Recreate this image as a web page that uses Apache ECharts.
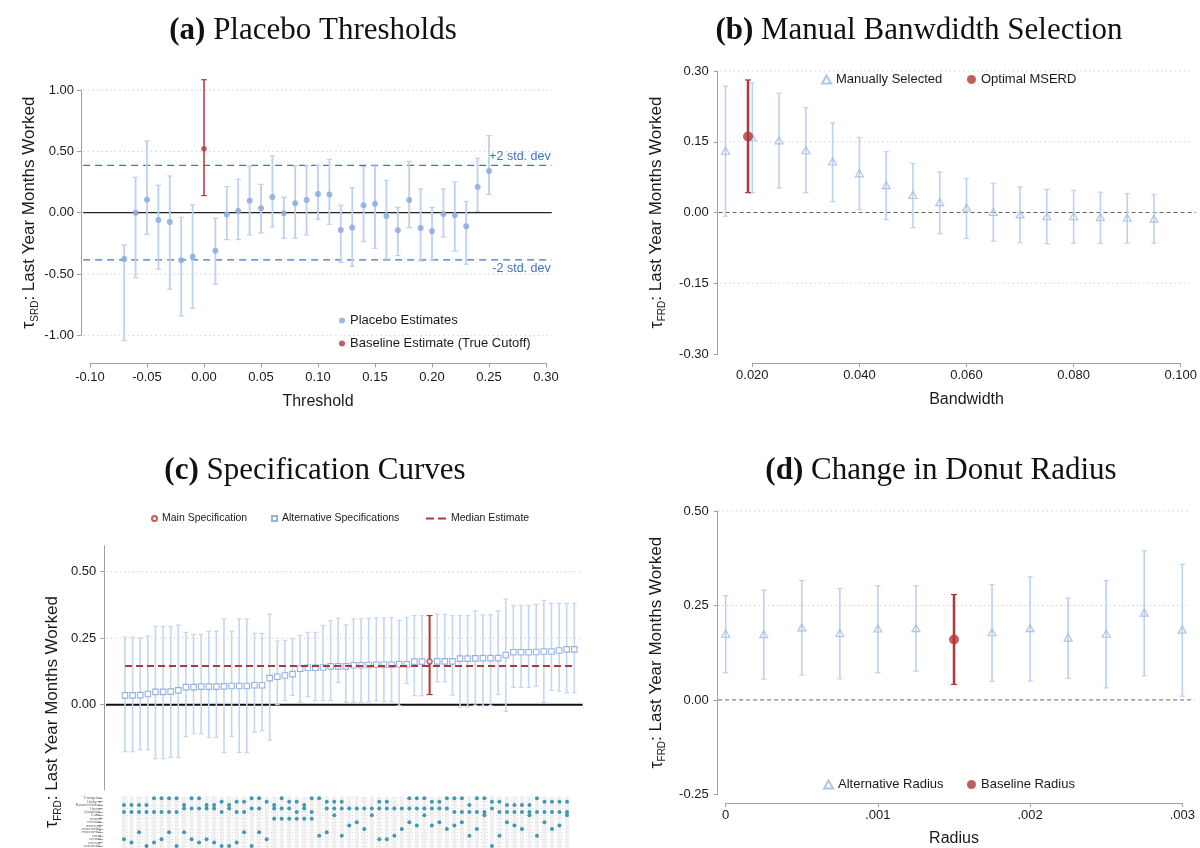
<!DOCTYPE html>
<html><head><meta charset="utf-8">
<script src="https://cdn.jsdelivr.net/npm/echarts@6/dist/echarts.min.js"></script>
<style>html,body{margin:0;padding:0;background:#fff}#c{width:1200px;height:848px}</style>
</head><body><div id="c"></div>
<script>
// ---------------- DATA ----------------
// (a) Placebo thresholds
const aThreshold = [-0.07,-0.06,-0.05,-0.04,-0.03,-0.02,-0.01,0.01,0.02,0.03,0.04,0.05,0.06,0.07,0.08,0.09,0.10,0.11,0.12,0.13,0.14,0.15,0.16,0.17,0.18,0.19,0.20,0.21,0.22,0.23,0.24,0.25];
const aEst = [-0.378,0.000,0.106,-0.060,-0.076,-0.389,-0.359,-0.310,-0.016,0.014,0.098,0.035,0.128,-0.005,0.076,0.103,0.152,0.149,-0.141,-0.122,0.060,0.073,-0.027,-0.144,0.103,-0.125,-0.152,-0.011,-0.022,-0.111,0.209,0.340];
const aLo = [-1.043,-0.530,-0.177,-0.462,-0.625,-0.842,-0.780,-0.582,-0.220,-0.220,-0.182,-0.166,-0.117,-0.209,-0.209,-0.182,-0.054,-0.095,-0.405,-0.438,-0.236,-0.290,-0.378,-0.350,-0.122,-0.394,-0.386,-0.198,-0.315,-0.421,0.011,0.149];
const aHi = [-0.264,0.288,0.584,0.223,0.299,-0.038,0.063,-0.046,0.212,0.272,0.380,0.231,0.462,0.125,0.380,0.380,0.386,0.435,0.060,0.204,0.375,0.380,0.264,0.043,0.418,0.193,0.043,0.193,0.250,0.092,0.443,0.628];
const aBaseline = {x: 0.00, est: 0.522, lo: 0.139, hi: 1.084};
const aStdDev = 0.385;

// (b) Manual bandwidth selection
const bBandwidth = [0.015,0.020,0.025,0.030,0.035,0.040,0.045,0.050,0.055,0.060,0.065,0.070,0.075,0.080,0.085,0.090,0.095];
const bEst = [0.131,0.159,0.153,0.132,0.108,0.083,0.058,0.037,0.022,0.010,0.001,-0.004,-0.008,-0.008,-0.010,-0.011,-0.013];
const bLo = [-0.008,0.042,0.052,0.042,0.023,0.006,-0.015,-0.032,-0.045,-0.055,-0.061,-0.064,-0.066,-0.065,-0.065,-0.065,-0.065];
const bHi = [0.268,0.275,0.253,0.222,0.190,0.159,0.129,0.104,0.086,0.072,0.062,0.054,0.049,0.047,0.043,0.040,0.038];
const bOptimal = {x: 0.0192, est: 0.161, lo: 0.042, hi: 0.281};

// (c) Specification curve (sorted specifications 1..60, main spec = 41)
const cEst = [0.035,0.035,0.036,0.040,0.048,0.048,0.049,0.054,0.066,0.066,0.068,0.068,0.068,0.069,0.070,0.070,0.070,0.073,0.073,0.100,0.105,0.110,0.115,0.135,0.139,0.139,0.140,0.144,0.144,0.144,0.148,0.148,0.149,0.150,0.150,0.150,0.152,0.152,0.162,0.162,0.162,0.163,0.163,0.163,0.173,0.173,0.174,0.175,0.175,0.175,0.187,0.197,0.197,0.197,0.198,0.200,0.200,0.204,0.208,0.208];
const cHi = [0.254,0.254,0.252,0.258,0.294,0.294,0.294,0.299,0.272,0.264,0.264,0.276,0.276,0.322,0.276,0.323,0.323,0.268,0.268,0.340,0.239,0.242,0.248,0.261,0.272,0.272,0.297,0.316,0.325,0.300,0.323,0.323,0.325,0.326,0.327,0.327,0.317,0.328,0.335,0.335,0.335,0.340,0.340,0.335,0.335,0.335,0.353,0.337,0.338,0.353,0.397,0.373,0.373,0.373,0.377,0.392,0.381,0.381,0.381,0.381];
const cLo = [-0.177,-0.177,-0.170,-0.170,-0.203,-0.203,-0.198,-0.198,-0.120,-0.109,-0.109,-0.123,-0.123,-0.180,-0.119,-0.180,-0.180,-0.103,-0.098,-0.133,0.000,0.016,0.035,0.008,0.030,0.015,0.015,0.015,0.084,0.009,0.009,0.009,0.011,0.015,0.011,0.011,-0.004,0.080,0.034,0.034,0.038,0.086,0.086,0.036,-0.009,-0.009,-0.003,-0.005,-0.004,0.038,-0.025,0.065,0.065,0.065,0.069,0.009,0.054,0.051,0.045,0.045];
const cMainSpec = 41;
const cMedian = 0.145;
const cYTicks = [0, 0.25, 0.50];
// specification indicator matrix (rows, and selected columns per row)
const matrixRows = ['Triangular','Uniform','Epanechnikov','Linear','Quadratic','Cubic','mserd','msetwo','msesum','msecomb1','msecomb2','cerrd','certwo','cersum','cercomb1'];
const matrixSelected = [
  [5,6,7,8,10,11,18,19,22,26,27,39,40,41,44,45,46,48,49,56],
  [14,16,17,20,23,24,28,29,30,35,36,42,43,50,51,57,58,59,60],
  [1,2,3,4,9,12,13,15,21,25,47,52,53,54,55],
  [9,10,11,12,13,15,18,19,21,22,23,25,28,29,30,31,32,33,34,35,36,37,38,39,40,41,42,43,44,50],
  [1,2,3,4,5,6,7,8,14,16,17,24,26,45,46,47,48,49,51,52,53,54,55,56,57,58,59,60],
  [29,34,41,49,55,60],
  [21,22,23,24,25,26],
  [32,39,43,46,52,57],
  [31,40,42,45,53,59],
  [33,38,44,48,54,58],
  [3,7,9,17,19,28],
  [27,30,37,47,51,56],
  [1,6,10,12,20,35,36],
  [2,5,11,13,16],
  [4,8,14,15,18,50]
];

// (d) Donut radius
const dRadius = [0,0.00025,0.0005,0.00075,0.001,0.00125,0.00175,0.002,0.00225,0.0025,0.00275,0.003];
const dEst = [0.175,0.174,0.192,0.177,0.189,0.190,0.179,0.190,0.165,0.175,0.231,0.186];
const dLo = [0.072,0.055,0.066,0.056,0.072,0.076,0.049,0.050,0.057,0.032,0.064,0.010];
const dHi = [0.276,0.291,0.316,0.295,0.302,0.302,0.305,0.326,0.270,0.316,0.395,0.359];
const dBaseline = {x: 0.0015, est: 0.160, lo: 0.041, hi: 0.279};

// ---------------- STYLE ----------------
const SANS = "'Liberation Sans', Arial, sans-serif";
const SERIF = "'Liberation Serif', 'Times New Roman', serif";
const TXT = '#1a1a1a';
const BLUE_BAR = '#bdd0ee';
const BLUE_PT = '#86a8dc';
const BLUE_TRI = '#9cb8e4';
const BLUE_SQ = '#7d9fd6';
const RED = '#b0363b';
const TEAL = '#1b7fa6';
const GRIDC = '#cfcfcf';
const AXISC = '#a0a0a0';
const SDBLUE = '#3f72c2';

const zip3 = (x, lo, hi) => x.map((v, i) => [v, lo[i], hi[i]]);
const zip2 = (x, y) => x.map((v, i) => [v, y[i]]);

function errRender(capHalf, width, color) {
  return function (params, api) {
    const x = api.value(0), lo = api.value(1), hi = api.value(2);
    const p1 = api.coord([x, hi]), p2 = api.coord([x, lo]);
    return {type: 'group', children: [
      {type: 'line', shape: {x1: p1[0], y1: p1[1], x2: p2[0], y2: p2[1]}, style: {stroke: color, lineWidth: width}},
      {type: 'line', shape: {x1: p1[0] - capHalf, y1: p1[1], x2: p1[0] + capHalf, y2: p1[1]}, style: {stroke: color, lineWidth: 1.2}},
      {type: 'line', shape: {x1: p2[0] - capHalf, y1: p2[1], x2: p2[0] + capHalf, y2: p2[1]}, style: {stroke: color, lineWidth: 1.2}}
    ]};
  };
}
function errSeries(name, gi, data, capHalf, width, color, z) {
  return {name, type: 'custom', xAxisIndex: gi, yAxisIndex: gi, data, clip: false, z,
    encode: {x: 0, y: [1, 2]}, renderItem: errRender(capHalf, width, color), silent: true};
}
// horizontal reference line (custom series so it may extend past the tick range)
function guide(gi, y, x0, x1, ls, label) {
  return {type: 'custom', xAxisIndex: gi, yAxisIndex: gi, data: [[x0, y, x1]], clip: false, z: 1, silent: true,
    encode: {x: [0, 2], y: 1},
    renderItem: function (params, api) {
      const p0 = api.coord([api.value(0), api.value(1)]);
      const p1 = api.coord([api.value(2), api.value(1)]);
      const kids = [{type: 'line', shape: {x1: p0[0], y1: p0[1], x2: p1[0], y2: p1[1]},
        style: {stroke: ls.color, lineWidth: ls.width, lineDash: ls.dash || null}}];
      if (label) {
        kids.push({type: 'text', style: {text: label.text, x: p1[0] - 1, y: p1[1] + label.dy,
          align: 'right', verticalAlign: label.va, fill: SDBLUE, fontSize: 12.5, fontFamily: SANS}});
      }
      return {type: 'group', children: kids};
    }};
}
const dotted = {color: GRIDC, width: 1, dash: [1.5, 3]};

const yName = (sub) => '{t|τ}{s|' + sub + '}{n|: Last Year Months Worked}';
const yRich = {
  t: {fontSize: 18, fontFamily: SANS, color: TXT, lineHeight: 22},
  s: {fontSize: 10, fontFamily: SANS, color: TXT, lineHeight: 9, verticalAlign: 'bottom'},
  n: {fontSize: 17, fontFamily: SANS, color: TXT, lineHeight: 22}
};

const fmt2 = v => Math.abs(v) < 1e-9 ? '0.00' : v.toFixed(2);
const tickLabel = {color: TXT, fontSize: 13, fontFamily: SANS};
const axLine = {show: true, onZero: false, lineStyle: {color: AXISC, width: 1}};
const axTick = {show: true, length: 4, lineStyle: {color: AXISC}};
const axName = {fontSize: 16, fontFamily: SANS, color: TXT};

function legendAt(name, left, top, iw, ih, fs, icon) {
  const l = {data: [name], left, top, itemWidth: iw, itemHeight: ih, itemGap: 0, selectedMode: false,
    padding: 0, textStyle: {fontSize: fs, fontFamily: SANS, color: TXT}};
  if (icon) l.icon = icon;
  return l;
}

// matrix data
const matrixAll = [];
for (let r = 0; r < matrixRows.length; r++) for (let c = 1; c <= cEst.length; c++) matrixAll.push([c, r]);
const matrixOn = [];
matrixSelected.forEach((cols, r) => cols.forEach(c => matrixOn.push([c, r])));

const cIdx = cEst.map((_, i) => i + 1);
const cAlt = cIdx.filter(i => i !== cMainSpec);

// ---------------- OPTION ----------------
const titleStyle = {fontFamily: SERIF, fontSize: 31, fontWeight: 'normal', color: '#111',
  rich: {b: {fontFamily: SERIF, fontSize: 31, fontWeight: 'bold', color: '#111'}}};

const option = {
  animation: false,
  backgroundColor: '#fff',
  title: [
    {text: '{b|(a)} Placebo Thresholds', left: 308, textAlign: 'center', top: 10, textStyle: titleStyle},
    {text: '{b|(b)} Manual Banwdidth Selection', left: 914, textAlign: 'center', top: 10, textStyle: titleStyle},
    {text: '{b|(c)} Specification Curves', left: 310, textAlign: 'center', top: 450, textStyle: titleStyle},
    {text: '{b|(d)} Change in Donut Radius', left: 936, textAlign: 'center', top: 450, textStyle: titleStyle}
  ],
  grid: [
    {left: 90, width: 456, top: 90, height: 245.3},
    {left: 752.3, width: 430, top: 71, height: 283},
    {left: 125, width: 449.3, top: 545.7, height: 244.3},
    {left: 124, width: 443, top: 798.3, height: 3.67 * (matrixRows.length - 1)},
    {left: 725.7, width: 456.6, top: 511, height: 283.7}
  ],
  xAxis: [
    {gridIndex: 0, type: 'value', min: -0.1, max: 0.3, interval: 0.05, offset: 28,
      axisLine: axLine, axisTick: axTick, splitLine: {show: false},
      axisLabel: Object.assign({formatter: fmt2, margin: 8}, tickLabel),
      name: 'Threshold', nameLocation: 'middle', nameGap: 30, nameTextStyle: axName},
    {gridIndex: 1, type: 'value', min: 0.02, max: 0.1, interval: 0.02, offset: 9,
      axisLine: axLine, axisTick: axTick, splitLine: {show: false},
      axisLabel: Object.assign({formatter: v => v.toFixed(3), margin: 6}, tickLabel),
      name: 'Bandwidth', nameLocation: 'middle', nameGap: 29, nameTextStyle: axName},
    {gridIndex: 2, type: 'value', min: 1, max: 60, show: false},
    {gridIndex: 3, type: 'value', min: 1, max: 60, show: false},
    {gridIndex: 4, type: 'value', min: 0, max: 0.003, interval: 0.001, offset: 8.6,
      axisLine: axLine, axisTick: axTick, splitLine: {show: false},
      axisLabel: Object.assign({formatter: v => v === 0 ? '0' : v.toFixed(3).replace(/^0/, ''), margin: 6}, tickLabel),
      name: 'Radius', nameLocation: 'middle', nameGap: 28, nameTextStyle: axName}
  ],
  yAxis: [
    {gridIndex: 0, type: 'value', min: -1, max: 1, interval: 0.5, offset: 9,
      axisLine: axLine, axisTick: axTick, splitLine: {show: false},
      axisLabel: Object.assign({formatter: fmt2, margin: 7}, tickLabel),
      name: yName('SRD'), nameLocation: 'middle', nameGap: 40, nameTextStyle: {rich: yRich}},
    {gridIndex: 1, type: 'value', min: -0.3, max: 0.3, interval: 0.15, offset: 34.6,
      axisLine: axLine, axisTick: axTick, splitLine: {show: false},
      axisLabel: Object.assign({formatter: fmt2, margin: 9}, tickLabel),
      name: yName('FRD'), nameLocation: 'middle', nameGap: 50, nameTextStyle: {rich: yRich}},
    {gridIndex: 2, type: 'value', min: -0.3207, max: 0.5977, offset: 20.7,
      axisLine: axLine, axisTick: Object.assign({customValues: cYTicks}, axTick), splitLine: {show: false},
      axisLabel: Object.assign({customValues: cYTicks, formatter: fmt2, margin: 8}, tickLabel)},
    {gridIndex: 3, type: 'category', data: matrixRows, inverse: true, boundaryGap: false, offset: 21,
      axisLine: {show: false}, axisTick: {show: true, length: 5, lineStyle: {color: '#aaa'}},
      splitLine: {show: true, lineStyle: {color: '#dcdcdc', type: [1, 2]}},
      axisLabel: {interval: 0, fontSize: 4, color: '#666', fontFamily: SANS, margin: 2}},
    {gridIndex: 4, type: 'value', min: -0.25, max: 0.5, interval: 0.25, offset: 8,
      axisLine: axLine, axisTick: axTick, splitLine: {show: false},
      axisLabel: Object.assign({formatter: fmt2, margin: 9}, tickLabel),
      name: yName('FRD'), nameLocation: 'middle', nameGap: 50, nameTextStyle: {rich: yRich}}
  ],
  legend: [
    legendAt('Placebo Estimates', 339, 314, 6, 6, 13),
    legendAt('Baseline Estimate (True Cutoff)', 339, 337, 6, 6, 13),
    legendAt('Manually Selected', 821, 73, 9, 8, 13),
    legendAt('Optimal MSERD', 967, 73, 9, 9, 13),
    legendAt('Main Specification', 151, 513, 5, 5, 10.5),
    legendAt('Alternative Specifications', 271, 513, 5, 5, 10.5),
    legendAt('Median Estimate', 426, 513, 20, 2, 10.5, 'path://M0,0h8v2h-8z M12,0h8v2h-8z'),
    legendAt('Alternative Radius', 823, 778, 9, 8, 13),
    legendAt('Baseline Radius', 967, 778, 9, 9, 13)
  ],
  graphic: [{
    type: 'text', x: 52, y: 712, rotation: Math.PI / 2, silent: true,
    style: {text: yName('FRD'), rich: yRich, align: 'center', verticalAlign: 'middle', fill: TXT}
  }],
  series: [
    // ----- (a)
    guide(0, 1.0, -0.106, 0.305, dotted), guide(0, 0.5, -0.106, 0.305, dotted),
    guide(0, -0.5, -0.106, 0.305, dotted), guide(0, -1.0, -0.106, 0.305, dotted),
    guide(0, 0, -0.106, 0.305, {color: '#222', width: 1.3}),
    guide(0, aStdDev, -0.106, 0.305, {color: SDBLUE, width: 1.2, dash: [7, 5]}, {text: '+2 std. dev', dy: -2, va: 'bottom'}),
    guide(0, -aStdDev, -0.106, 0.305, {color: SDBLUE, width: 1.2, dash: [7, 5]}, {text: '-2 std. dev', dy: 2, va: 'top'}),
    errSeries('Placebo CI', 0, zip3(aThreshold, aLo, aHi), 2.7, 1.8, BLUE_BAR, 2),
    {name: 'Placebo Estimates', type: 'scatter', xAxisIndex: 0, yAxisIndex: 0, clip: false, z: 3,
      data: zip2(aThreshold, aEst), symbol: 'circle', symbolSize: 6, itemStyle: {color: BLUE_PT}},
    errSeries('Baseline CI', 0, [[aBaseline.x, aBaseline.lo, aBaseline.hi]], 2.7, 1.5, RED, 4),
    {name: 'Baseline Estimate (True Cutoff)', type: 'scatter', xAxisIndex: 0, yAxisIndex: 0, clip: false, z: 5,
      data: [[aBaseline.x, aBaseline.est]], symbol: 'circle', symbolSize: 5.5, itemStyle: {color: RED}},

    // ----- (b)
    guide(1, 0.30, 0.014, 0.1016, dotted), guide(1, 0.15, 0.014, 0.1016, dotted), guide(1, -0.15, 0.014, 0.1016, dotted),
    guide(1, 0, 0.0137, 0.1028, {color: '#666', width: 1, dash: [4, 3]}),
    errSeries('Bandwidth CI', 1, zip3(bBandwidth, bLo, bHi), 2.6, 1.6, BLUE_BAR, 2),
    {name: 'Manually Selected', type: 'scatter', xAxisIndex: 1, yAxisIndex: 1, clip: false, z: 3,
      data: zip2(bBandwidth, bEst), symbol: 'triangle', symbolSize: [8, 7],
      itemStyle: {color: 'rgba(255,255,255,0)', borderColor: BLUE_TRI, borderWidth: 1.2}},
    errSeries('Optimal CI', 1, [[bOptimal.x, bOptimal.lo, bOptimal.hi]], 3, 2.5, RED, 4),
    {name: 'Optimal MSERD', type: 'scatter', xAxisIndex: 1, yAxisIndex: 1, clip: false, z: 5,
      data: [[bOptimal.x, bOptimal.est]], symbol: 'circle', symbolSize: 10, itemStyle: {color: RED}},

    // ----- (c) top
    guide(2, 0.50, -1.5, 61.1, dotted), guide(2, 0.25, -1.5, 61.1, dotted),
    guide(2, 0, -1.5, 61.1, {color: '#111', width: 2}),
    errSeries('Spec CI', 2, cAlt.map(i => [i, cLo[i - 1], cHi[i - 1]]), 2.4, 1.6, '#c5d6ef', 2),
    {name: 'Alternative Specifications', type: 'scatter', xAxisIndex: 2, yAxisIndex: 2, clip: false, z: 3,
      data: cAlt.map(i => [i, cEst[i - 1]]), symbol: 'rect', symbolSize: 5.5,
      itemStyle: {color: '#fff', borderColor: BLUE_SQ, borderWidth: 1.1}},
    {name: 'Median Estimate', type: 'line', xAxisIndex: 2, yAxisIndex: 2, z: 4, symbol: 'none', silent: true, clip: false,
      data: [[1, cMedian], [cEst.length, cMedian]], lineStyle: {color: RED, width: 2, type: [7, 4]}, itemStyle: {color: RED}},
    errSeries('Main CI', 2, [[cMainSpec, cLo[cMainSpec - 1], cHi[cMainSpec - 1]]], 3, 2, RED, 5),
    {name: 'Main Specification', type: 'scatter', xAxisIndex: 2, yAxisIndex: 2, clip: false, z: 6,
      data: [[cMainSpec, cEst[cMainSpec - 1]]], symbol: 'circle', symbolSize: 5,
      itemStyle: {color: '#fff', borderColor: RED, borderWidth: 1.5}},

    // ----- (c) matrix
    {type: 'scatter', xAxisIndex: 3, yAxisIndex: 3, data: matrixAll, symbol: 'circle', symbolSize: 4.5,
      itemStyle: {color: '#ececec'}, silent: true, z: 1, clip: false},
    {type: 'scatter', xAxisIndex: 3, yAxisIndex: 3, data: matrixOn, symbol: 'circle', symbolSize: 4,
      itemStyle: {color: TEAL}, silent: true, z: 2, clip: false},

    // ----- (d)
    guide(4, 0.50, -0.00005, 0.00305, dotted), guide(4, 0.25, -0.00005, 0.00305, dotted),
    guide(4, 0, -0.00005, 0.00308, {color: '#666', width: 1, dash: [4, 3]}),
    errSeries('Radius CI', 4, zip3(dRadius, dLo, dHi), 2.6, 1.6, BLUE_BAR, 2),
    {name: 'Alternative Radius', type: 'scatter', xAxisIndex: 4, yAxisIndex: 4, clip: false, z: 3,
      data: zip2(dRadius, dEst), symbol: 'triangle', symbolSize: [8, 7],
      itemStyle: {color: 'rgba(255,255,255,0)', borderColor: BLUE_TRI, borderWidth: 1.2}},
    errSeries('Baseline Radius CI', 4, [[dBaseline.x, dBaseline.lo, dBaseline.hi]], 3, 2.5, RED, 4),
    {name: 'Baseline Radius', type: 'scatter', xAxisIndex: 4, yAxisIndex: 4, clip: false, z: 5,
      data: [[dBaseline.x, dBaseline.est]], symbol: 'circle', symbolSize: 10, itemStyle: {color: RED}}
  ]
};

const chart = echarts.init(document.getElementById('c'), null, {renderer: 'canvas', width: 1200, height: 848});
chart.setOption(option);
</script></body></html>
